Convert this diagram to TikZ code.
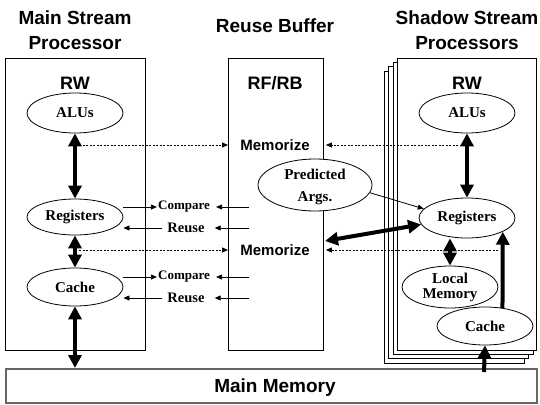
\documentclass[tikz,border=0pt]{standalone}
\usepackage{fontspec}
\setmainfont{Liberation Serif}
\newfontfamily\hsans{Liberation Sans}
\usetikzlibrary{shapes.geometric,arrows.meta,calc}

\begin{document}
\begin{tikzpicture}[x=1pt,y=1pt,
  frame/.style={draw, line width=0.9pt, fill=white, inner sep=0pt, anchor=north west},
  oval/.style={ellipse, draw, line width=0.8pt, fill=white, inner sep=0pt,
    minimum width=96pt, font=\bfseries\fontsize{15}{19}\selectfont},
  ovaltext/.style={font=\bfseries\fontsize{15}{19}\selectfont, align=center, inner sep=0pt},
  title/.style={font=\hsans\bfseries\fontsize{19}{25}\selectfont, align=center},
  unitlabel/.style={font=\hsans\bfseries\fontsize{18}{22}\selectfont},
  memlabel/.style={font=\hsans\bfseries\fontsize{15}{18}\selectfont},
  cmplabel/.style={font=\bfseries\fontsize{13}{15}\selectfont, inner sep=1pt},
  reuselabel/.style={font=\bfseries\fontsize{14.5}{17}\selectfont, inner ysep=1pt, inner xsep=5pt},
  bus/.style={line width=4pt, {Triangle[length=13pt,width=13pt]}-{Triangle[length=13pt,width=13pt]}},
  busone/.style={line width=4pt, -{Triangle[length=13pt,width=13pt]}},
  thinarrow/.style={line width=0.8pt, -{Triangle[length=6pt,width=5pt]}},
  dotarrow/.style={line width=0.8pt, dash pattern=on 2pt off 1.5pt, -{Triangle[length=6pt,width=5pt]}},
]
\useasboundingbox (0,0) rectangle (540,-404);

% column titles
\node[title] (t1) at (75,-30) {Main Stream\\Processor};
\node[title] (t2) at (275,-26) {Reuse Buffer};
\node[title] (t3) at (467,-30) {Shadow Stream\\Processors};

% main stream processor and reuse buffer frames
\node[frame, minimum width=140pt, minimum height=292pt] (mb) at (5,-58) {};
\node[frame, minimum width=95pt, minimum height=292pt] (rf) at (228,-58) {};

% stack of shadow processors, back to front
\node[frame, minimum width=140pt, minimum height=292pt] (sb3) at (384,-71) {};
\node[frame, minimum width=140pt, minimum height=292pt] (sb2) at (388,-66) {};
\node[frame, minimum width=140pt, minimum height=292pt] (sb1) at (393,-62) {};
\node[frame, minimum width=139pt, minimum height=292pt] (sb) at (397,-58) {};

% main memory
\node[draw=black!60, line width=1.5pt, fill=white, inner sep=0pt, anchor=north west,
  minimum width=531pt, minimum height=34pt] (mm) at (5,-368) {};
\node[title] (mmtext) at (275,-388) {Main Memory};

% region labels
\node[unitlabel] (rw1) at (75,-83) {RW};
\node[unitlabel] (rfrb) at (275,-83) {RF/RB};
\node[unitlabel] (rw2) at (467,-83) {RW};
\node[memlabel] (mem1) at (275,-145) {Memorize};
\node[memlabel] (mem2) at (275,-250) {Memorize};

% main stream units
\node[oval, minimum height=40pt] (malu) at (75,-113) {ALUs};
\node[oval, minimum height=36pt] (mreg) at (75,-217) {Registers};
\node[oval, minimum height=38pt] (mcache) at (75,-287) {Cache};

% shadow stream units
\node[oval, minimum height=40pt] (salu) at (467,-113) {ALUs};
\node[oval, minimum height=40pt] (sreg) at (467,-218) {Registers};
\node[oval, minimum height=42pt, label={[ovaltext]center:Local\\[-4pt]Memory}] (slm) at (450,-287) {};
\node[oval, minimum height=38pt] (scache) at (485,-326) {Cache};

% predicted arguments
\node[oval, minimum width=114pt, minimum height=52pt,
  label={[ovaltext, yshift=-2pt]center:Predicted\\[3pt]Args.}] (pred) at (315,-185) {};

% data paths in the main stream processor
\draw[bus] (malu.south) -- (mreg.north);
\draw[bus] (mreg.south) -- (mcache.north);
\draw[bus] (mcache.south) -- (mcache.south |- mm.north);

% data paths in the shadow stream processor
\draw[bus] (salu.south) -- (sreg.north);
\draw[bus] (sreg.south -| slm.north) -- (slm.north);
\draw[busone] (scache.46) -- (sreg.-21);
\draw[busone] ($(scache.south |- mm.north)+(-1,-4)$) -- (scache.south);

% predicted arguments and shadow registers
\coordinate (rfport) at (325,-241);
\draw[thinarrow] (pred.-8) -- (sreg.168);
\draw[bus] (rfport) -- (sreg.188);

% memorize paths
\coordinate (d1l) at (79,-145);
\coordinate (d1r) at (465,-145);
\coordinate (d2l) at (79,-250);
\coordinate (d2r) at (498,-250);
\draw[dotarrow] (d1l) -- (d1l -| rf.west);
\draw[dotarrow] (d1r) -- ($(d1r -| rf.east)+(2,0)$);
\draw[dotarrow] (d2l) -- (d2l -| rf.west);
\draw[dotarrow] (d2r) -- ($(d2r -| rf.east)+(2,0)$);

% compare / reuse at the registers
\node[cmplabel] (cmp1) at (184,-207) {Compare};
\node[reuselabel] (reu1) at (186,-228) {Reuse};
\coordinate (c1) at (249,-207);
\coordinate (r1) at (249,-228);
\draw[thinarrow] (mreg.east |- cmp1) -- (cmp1.west);
\draw[thinarrow] (c1) -- ($(cmp1.east)+(5,0)$);
\draw[thinarrow] (r1) -- ($(reu1.east)+(5,0)$);
\draw[thinarrow] (reu1.west) -- (mreg.east |- reu1);

% compare / reuse at the cache
\node[cmplabel] (cmp2) at (184,-277) {Compare};
\node[reuselabel] (reu2) at (186,-298) {Reuse};
\coordinate (c2) at (249,-277);
\coordinate (r2) at (249,-298);
\draw[thinarrow] (mcache.east |- cmp2) -- (cmp2.west);
\draw[thinarrow] (c2) -- ($(cmp2.east)+(5,0)$);
\draw[thinarrow] (r2) -- ($(reu2.east)+(5,0)$);
\draw[thinarrow] (reu2.west) -- (mcache.east |- reu2);
\end{tikzpicture}
\end{document}
